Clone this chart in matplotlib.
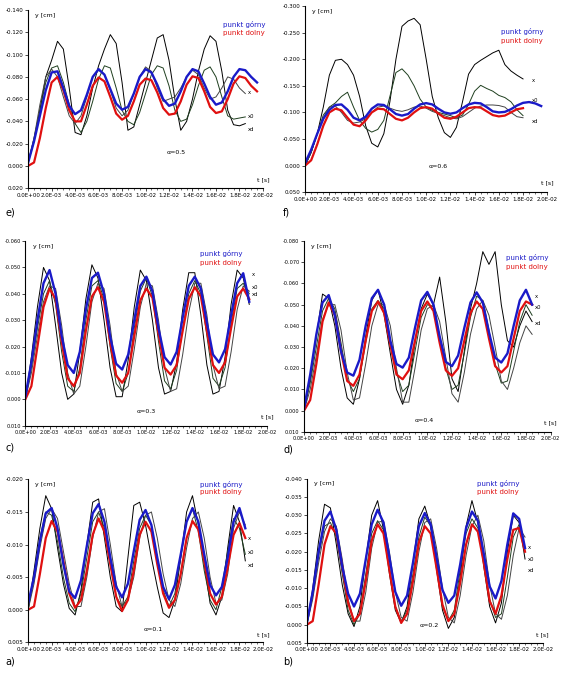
# Displacement of upper / lower point vs time, six damping cases (layout as in the reference)
import numpy as np
import matplotlib.pyplot as plt
from matplotlib.ticker import FormatStrFormatter, MultipleLocator

plt.rcParams['axes.unicode_minus'] = False
plt.rcParams['font.family'] = ['DejaVu Sans']

# time grid [s], sampled every 0.5 ms
t = np.arange(40) * 0.0005

# values, in 1e-3 cm
a_blue = [-1.0, -5.0, -10.5, -14.8, -15.6, -12.5, -7.0, -2.8, -1.8, -4.5, -9.8, -14.8, -16.2, -13.5, -8.0, -3.5,
          -1.9, -4.0, -9.0, -13.8, -15.3, -13.0, -8.0, -3.5, -1.6, -3.8, -8.5, -13.5, -15.6, -13.5, -8.5, -3.8,
          -2.2, -3.5, -8.0, -13.5, -15.6, -12.5]
a_red = [0.0, -0.5, -5.5, -11.0, -13.6, -12.0, -7.5, -2.5, -0.3, -1.5, -6.0, -11.5, -14.0, -12.0, -7.0, -2.0,
         0.2, -1.5, -6.0, -11.5, -13.5, -12.0, -7.0, -2.5, -0.3, -1.5, -5.5, -11.0, -13.6, -12.3, -7.5, -2.5,
         -0.8, -2.0, -6.5, -11.5, -13.3, -11.0]
a_x1 = [0.0, -6.0, -12.5, -17.5, -15.5, -9.5, -4.0, -0.2, 0.8, -3.0, -10.0, -16.5, -17.0, -11.0, -5.0, -0.5,
        0.3, -8.0, -16.0, -16.5, -13.0, -8.0, -3.5, 0.5, 1.2, -1.5, -8.0, -15.0, -17.5, -13.0, -7.0, -1.0,
        0.8, -2.0, -9.5, -16.0, -13.5, -7.5]
a_x2 = [0.0, -5.0, -11.0, -15.0, -14.5, -10.5, -5.0, -1.0, 0.3, -2.5, -8.0, -13.5, -15.0, -12.5, -7.0, -2.0,
        -0.5, -2.0, -7.5, -12.5, -14.5, -13.0, -8.0, -3.0, -0.5, -2.5, -8.0, -13.5, -15.5, -12.0, -6.0, -1.5,
        0.0, -3.5, -9.0, -14.0, -12.5, -8.5]
a_x3 = [0.0, -4.0, -9.5, -14.0, -15.5, -14.0, -9.0, -4.0, -0.5, -0.5, -5.0, -11.0, -15.0, -15.5, -10.0, -4.0,
        -0.5, -1.5, -5.0, -11.0, -14.5, -15.0, -11.0, -5.5, -1.5, -0.5, -4.0, -9.5, -14.0, -15.0, -11.0, -5.0,
        -1.0, -1.5, -5.5, -12.5, -15.0, -13.0]

b_blue = [-0.5, -9.0, -20.0, -28.5, -31.0, -26.0, -16.0, -8.5, -5.0, -8.5, -18.0, -27.5, -31.5, -28.0, -18.5, -9.0,
          -5.2, -8.0, -17.0, -27.0, -30.6, -27.5, -18.5, -9.5, -6.0, -8.0, -16.5, -26.5, -31.0, -28.5, -19.5, -10.5,
          -7.2, -12.0, -22.0, -30.5, -29.0, -21.0]
b_red = [0.0, -1.0, -11.0, -22.0, -27.0, -25.0, -16.0, -6.0, -1.0, -3.0, -12.0, -23.0, -27.5, -25.0, -15.0, -5.0,
         -0.5, -3.0, -12.0, -22.5, -27.0, -25.0, -15.5, -5.5, -1.0, -3.0, -11.5, -22.0, -27.5, -25.5, -17.0, -6.5,
         -3.0, -8.0, -18.0, -26.0, -26.5, -20.0]
b_x1 = [0.0, -10.0, -23.0, -33.0, -32.0, -22.0, -11.0, -3.0, 0.5, -5.0, -18.0, -30.0, -34.0, -26.0, -14.0, -4.0,
        -0.5, -5.0, -17.0, -29.0, -32.5, -27.0, -15.0, -4.0, 1.0, -2.0, -13.0, -27.0, -34.0, -28.0, -16.0, -5.0,
        -0.5, -6.0, -20.0, -30.0, -28.0, -18.0]
b_x2 = [0.0, -8.0, -19.0, -27.0, -28.0, -24.0, -14.0, -4.0, 0.0, -3.0, -14.0, -25.0, -28.5, -26.0, -16.0, -5.0,
        -1.0, -4.0, -14.0, -24.0, -29.5, -27.0, -17.0, -5.0, -1.0, -4.0, -15.0, -25.0, -29.0, -26.5, -18.0, -7.0,
        -2.0, -3.0, -13.0, -24.0, -27.5, -20.0]
b_x3 = [0.0, -7.0, -17.0, -25.5, -29.0, -27.0, -18.0, -7.0, -1.0, -1.0, -9.0, -21.0, -28.0, -28.5, -20.0, -9.0,
        -2.0, -1.0, -9.0, -20.0, -28.0, -29.0, -21.0, -10.0, -2.0, -0.5, -8.0, -19.0, -27.0, -30.0, -23.0, -11.0,
        -3.0, -1.5, -8.0, -19.0, -26.5, -24.0]

c_blue = [-1.0, -14.0, -30.0, -44.0, -49.0, -40.0, -24.0, -13.0, -10.0, -18.0, -34.0, -46.0, -48.0, -40.0, -24.0, -13.5,
          -11.3, -17.0, -30.0, -43.0, -46.5, -41.0, -27.0, -16.0, -13.2, -18.0, -31.0, -43.0, -46.5, -42.0, -29.0, -17.0,
          -14.0, -19.0, -32.0, -44.0, -47.8, -37.0]
c_red = [0.0, -5.0, -20.0, -35.0, -42.0, -38.0, -22.0, -8.0, -5.0, -10.0, -26.0, -39.0, -42.5, -37.0, -22.0, -9.0,
         -6.3, -10.0, -24.0, -37.5, -42.0, -38.5, -25.0, -12.0, -9.4, -13.0, -26.0, -38.0, -42.5, -39.0, -26.0, -13.0,
         -10.0, -14.0, -27.0, -39.0, -42.0, -38.0]
c_x1 = [0.0, -16.0, -35.0, -50.0, -45.0, -28.0, -10.0, 0.0, -2.0, -18.0, -38.0, -51.0, -46.0, -30.0, -12.0, -1.0,
        -1.0, -15.0, -35.0, -49.0, -45.0, -30.0, -12.0, -2.0, -3.0, -14.0, -34.0, -48.0, -48.0, -32.0, -13.0, -2.0,
        -3.0, -16.0, -36.0, -49.0, -46.0, -36.0]
c_x2 = [0.0, -12.0, -27.0, -40.0, -45.0, -36.0, -18.0, -5.0, -3.0, -12.0, -30.0, -43.0, -45.0, -38.0, -20.0, -6.0,
        -3.0, -10.0, -27.0, -41.0, -46.0, -39.0, -22.0, -7.0, -4.0, -11.0, -27.0, -40.0, -45.0, -40.0, -24.0, -8.0,
        -5.0, -12.0, -29.0, -42.0, -44.0, -40.0]
c_x3 = [0.0, -10.0, -24.0, -37.0, -43.0, -42.0, -28.0, -10.0, -2.0, -5.0, -20.0, -37.0, -44.0, -42.0, -28.0, -10.0,
        -3.0, -5.0, -19.0, -35.0, -44.0, -43.0, -30.0, -12.0, -3.0, -4.0, -17.0, -33.0, -44.0, -44.0, -32.0, -13.0,
        -4.0, -5.0, -18.0, -34.0, -43.0, -41.0]

d_blue = [-1.0, -17.0, -36.0, -51.0, -54.5, -45.0, -28.0, -18.0, -16.5, -24.0, -40.0, -53.0, -57.0, -50.0, -33.0, -22.0,
          -20.3, -25.0, -39.0, -52.0, -56.0, -50.0, -35.0, -23.0, -21.0, -26.0, -39.0, -51.0, -55.8, -51.0, -37.0, -25.0,
          -22.7, -27.0, -40.0, -52.0, -57.0, -50.0]
d_red = [0.0, -5.0, -22.0, -42.0, -51.0, -45.0, -28.0, -14.0, -11.7, -17.0, -33.0, -47.0, -51.5, -46.0, -31.0, -17.0,
         -14.8, -19.0, -33.0, -47.0, -51.5, -47.0, -32.0, -19.0, -16.4, -20.0, -33.0, -46.0, -51.5, -48.0, -34.0, -21.0,
         -18.0, -21.0, -34.0, -47.0, -51.5, -50.0]
d_x1 = [0.0, -15.0, -35.0, -55.0, -53.0, -40.0, -20.0, -6.0, -3.0, -15.0, -35.0, -52.0, -57.0, -45.0, -27.0, -10.0,
        -3.0, -12.0, -32.0, -48.0, -55.0, -50.0, -63.0, -42.0, -15.0, -9.0, -28.0, -48.0, -60.0, -75.0, -69.0, -75.0,
        -50.0, -33.0, -30.0, -40.0, -47.0, -42.0]
d_x2 = [0.0, -13.0, -30.0, -47.0, -53.0, -48.0, -32.0, -15.0, -9.0, -15.0, -32.0, -48.0, -52.0, -48.0, -33.0, -18.0,
        -9.0, -12.0, -28.0, -44.0, -50.0, -49.0, -35.0, -20.0, -10.0, -12.0, -27.0, -44.0, -54.0, -52.0, -38.0, -22.0,
        -13.0, -14.0, -28.0, -42.0, -50.0, -45.0]
d_x3 = [0.0, -10.0, -26.0, -43.0, -50.0, -50.0, -38.0, -18.0, -5.0, -6.0, -22.0, -40.0, -50.0, -50.0, -40.0, -20.0,
        -4.0, -4.0, -20.0, -38.0, -48.0, -50.0, -42.0, -25.0, -8.0, -4.0, -18.0, -36.0, -48.0, -52.0, -45.0, -30.0,
        -14.0, -10.0, -20.0, -32.0, -40.0, -36.0]

e_blue = [-3, -22, -45, -68, -84, -85, -70, -54, -46.5, -50, -64, -80, -87, -82, -69, -56,
          -50.5, -53, -65, -80, -87, -84, -73, -60, -54, -56, -67, -80, -87, -85, -74, -62,
          -55, -57, -67, -80, -87, -86, -80, -75]
e_red = [0, -3, -25, -52, -75, -80, -68, -50, -40, -40, -55, -72, -79.5, -76, -62, -47,
         -41.5, -45, -58, -73, -78.5, -77, -66, -52, -46, -47, -58, -73, -80.5, -79, -67, -53,
         -47.5, -49, -60, -74, -80.5, -79, -72, -67]
e_x1 = [-3, -22, -50, -80, -95, -112, -105, -70, -30, -28, -45, -70, -90, -105, -118, -110,
        -75, -32, -35, -55, -75, -95, -115, -118, -95, -60, -32, -40, -60, -85, -105, -117,
        -112, -85, -50, -37, -36, -38]
e_x2 = [-3, -25, -50, -75, -88, -90, -75, -55, -38, -30, -40, -58, -78, -90, -88, -70,
        -50, -40, -37, -48, -65, -82, -90, -88, -72, -50, -40, -42, -55, -72, -86, -89,
        -80, -62, -45, -42, -43, -44]
e_x3 = [-3, -25, -55, -80, -87, -80, -62, -45, -38, -45, -62, -80, -86, -82, -68, -52,
        -45, -50, -65, -80, -89, -85, -70, -58, -60, -62, -70, -80, -86, -82, -70, -60,
        -62, -70, -80, -78, -70, -65]

f_blue = [-5, -30, -60, -88, -105, -114, -115, -105, -90, -85, -92, -107, -115, -114, -106, -97,
          -94, -97, -107, -115, -117.5, -115, -107, -100, -97.5, -100, -108, -115, -118, -117, -110, -102,
          -100, -101, -106, -113, -118, -119.5, -117, -112]
f_red = [0, -10, -40, -75, -100, -107, -104, -90, -77, -74, -85, -100, -107, -106, -97, -88,
         -85, -90, -100, -108, -110, -107, -98, -90, -88, -92, -100, -108, -110, -109, -102, -95,
         -92.5, -94, -100, -106, -108]
f_x1 = [0, -25, -60, -110, -170, -198, -200, -190, -170, -130, -75, -42, -35, -60, -120, -200,
        -262, -272, -277, -265, -200, -130, -90, -62, -53, -72, -120, -172, -190, -198, -205, -212,
        -217, -190, -178, -170, -163]
f_x2 = [0, -25, -60, -95, -110, -118, -130, -138, -110, -85, -70, -63, -68, -85, -130, -175,
        -182, -170, -150, -125, -110, -104, -100, -97, -94, -90, -95, -115, -140, -151, -145, -140,
        -132, -128, -120, -105, -94]
f_x3 = [0, -25, -60, -90, -110, -112, -100, -85, -80, -82, -88, -100, -110, -112, -108, -104,
        -102, -105, -110, -112, -108, -102, -98, -94, -90, -88, -92, -100, -108, -112, -114, -114,
        -113, -110, -100, -92, -90]

# y tick values [cm]
a_ticks = [0.005, 0.0, -0.005, -0.010, -0.015, -0.020]
b_ticks = [0.005, 0.0, -0.005, -0.010, -0.015, -0.020, -0.025, -0.030, -0.035, -0.040]
c_ticks = [0.010, 0.0, -0.010, -0.020, -0.030, -0.040, -0.050, -0.060]
d_ticks = [0.010, 0.0, -0.010, -0.020, -0.030, -0.040, -0.050, -0.060, -0.070, -0.080]
e_ticks = [0.020, 0.0, -0.020, -0.040, -0.060, -0.080, -0.100, -0.120, -0.140]
f_ticks = [0.050, 0.0, -0.050, -0.100, -0.150, -0.200, -0.250, -0.300]

alphas = ['α=0.1', 'α=0.2', 'α=0.3', 'α=0.4', 'α=0.5', 'α=0.6']
letters = ['a)', 'b)', 'c)', 'd)', 'e)', 'f)']
curve_names = ['x', 'x0', 'xd']

fig = plt.figure(figsize=(5.63, 6.79), dpi=100)

# per panel: data, y ticks, axes rect, tick font, legend pos, alpha-text pos, letter pos,
# heights (axes fraction) of the three curve-end labels
panels = [
    (a_blue, a_red, [a_x1, a_x2, a_x3], a_ticks, [0.050, 0.054, 0.417, 0.240], 4.0,
     (0.73, 0.99), (0.49, 0.07), (0.009, 0.021), (0.64, 0.55, 0.47)),
    (b_blue, b_red, [b_x1, b_x2, b_x3], b_ticks, [0.545, 0.053, 0.419, 0.242], 4.0,
     (0.72, 0.99), (0.48, 0.10), (0.503, 0.021), (0.58, 0.51, 0.44)),
    (c_blue, c_red, [c_x1, c_x2, c_x3], c_ticks, [0.045, 0.373, 0.430, 0.272], 3.6,
     (0.72, 0.95), (0.46, 0.07), (0.009, 0.336), (0.82, 0.75, 0.71)),
    (d_blue, d_red, [d_x1, d_x2, d_x3], d_ticks, [0.540, 0.364, 0.438, 0.281], 3.6,
     (0.82, 0.93), (0.45, 0.05), (0.503, 0.333), (0.71, 0.65, 0.57)),
    (e_blue, e_red, [e_x1, e_x2, e_x3], e_ticks, [0.050, 0.723, 0.417, 0.262], 4.0,
     (0.83, 0.94), (0.59, 0.19), (0.009, 0.683), (0.54, 0.40, 0.33)),
    (f_blue, f_red, [f_x1, f_x2, f_x3], f_ticks, [0.542, 0.717, 0.430, 0.274], 4.0,
     (0.81, 0.88), (0.51, 0.13), (0.503, 0.683), (0.60, 0.49, 0.38)),
]
black_cols = ['black', '#1f3f1f', '#444444']

for i, (blue, red, xs, yt, rect, fs, lpos, apos, tpos, labh) in enumerate(panels):
    ax = fig.add_axes(rect)
    for k, (y, col) in enumerate(zip(xs, black_cols)):
        yy = np.array(y) * 1e-3
        ax.plot(t[:len(yy)], yy, color=col, lw=0.7)
    ax.plot(t[:len(red)], np.array(red) * 1e-3, color='#e01010', lw=1.6)
    ax.plot(t[:len(blue)], np.array(blue) * 1e-3, color='#1a1ac8', lw=1.7)
    for k, h in enumerate(sorted(labh, reverse=True)):
        ax.text(0.935, h, curve_names[k], transform=ax.transAxes, fontsize=3.8, va='center')

    ax.set_xlim(0, 0.02)
    ax.set_ylim(yt[0], yt[-1])   # inverted: negative values up
    ax.set_yticks(yt)
    ax.yaxis.set_major_formatter(FormatStrFormatter('%.3f'))
    ax.xaxis.set_major_locator(MultipleLocator(0.002))
    ax.xaxis.set_minor_locator(MultipleLocator(0.0005))
    ax.xaxis.set_major_formatter(FormatStrFormatter('%.1E'))
    ax.tick_params(labelsize=fs, length=2, width=0.5, pad=1.2)
    ax.tick_params(which='minor', length=1.2, width=0.4)
    for s in ['top', 'right']:
        ax.spines[s].set_visible(False)
    for s in ['left', 'bottom']:
        ax.spines[s].set_linewidth(0.8)

    ax.text(0.03, 0.985, 'y [cm]', transform=ax.transAxes, fontsize=4.5, va='top')
    ax.text(1.0, 0.04, 't [s]', transform=ax.transAxes, fontsize=4.5, ha='center')
    ax.text(lpos[0], lpos[1], 'punkt górny', transform=ax.transAxes, fontsize=5, color='#1a1ac8', va='top')
    ax.text(lpos[0], lpos[1] - 0.05, 'punkt dolny', transform=ax.transAxes, fontsize=5, color='#e01010', va='top')
    ax.text(apos[0], apos[1], alphas[i], transform=ax.transAxes, fontsize=4.5)
    fig.text(tpos[0], tpos[1], letters[i], fontsize=7)

plt.savefig('out.png', dpi=100)
